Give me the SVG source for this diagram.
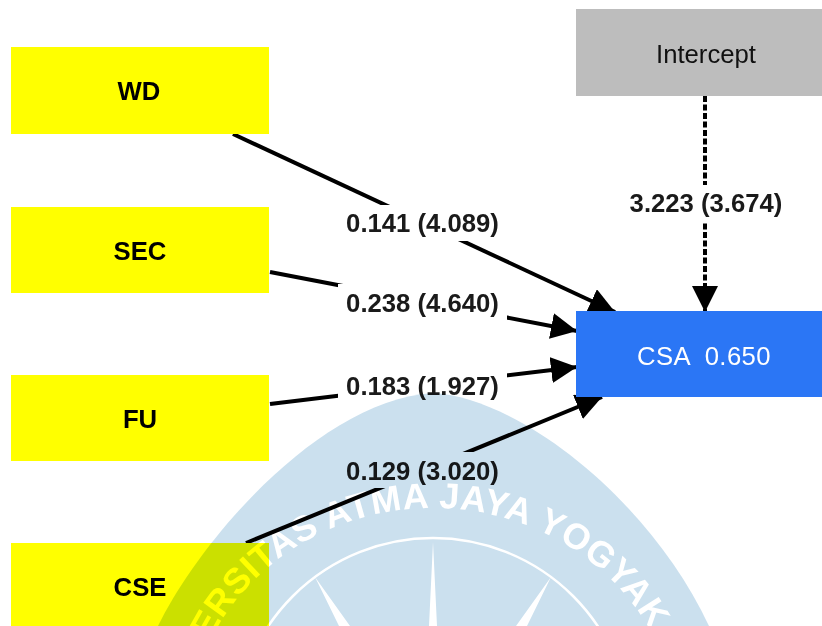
<svg xmlns="http://www.w3.org/2000/svg" width="822" height="626" viewBox="0 0 822 626">
<style>
text{font-family:"Liberation Sans",Arial,sans-serif;font-size:25.7px;text-anchor:middle}
.k{font-weight:bold;fill:#000}
.y{fill:#ffff00}
.l{font-weight:bold;fill:#1a1a1a}
.e{fill:none;stroke:#000;stroke-width:4;marker-end:url(#a)}
.b{fill:#fff}
</style>
<defs>
<marker id="a" markerUnits="userSpaceOnUse" markerWidth="26" markerHeight="26" refX="26" refY="13" orient="auto"><path d="M0 0L26 13L0 26Z" fill="#000"/></marker>
</defs>
<rect width="822" height="626" fill="#fff"/>
<g id="connectors">
<line class="e" x1="233" y1="134" x2="615" y2="312"/>
<line class="e" x1="270" y1="272" x2="577" y2="331"/>
<line class="e" x1="270" y1="404" x2="577" y2="367"/>
<line class="e" x1="246" y1="543" x2="602" y2="397"/>
<line class="e" x1="705" y1="96" x2="705" y2="312" stroke-dasharray="6 2.500"/>
</g>
<g id="edge-labels">
<rect class="b" x="338" y="205" width="169" height="36"/><text class="l" x="422.500" y="232">0.141 (4.089)</text>
<rect class="b" x="338" y="284" width="169" height="36"/><text class="l" x="422.500" y="312">0.238 (4.640)</text>
<rect class="b" x="338" y="368" width="169" height="36"/><text class="l" x="422.500" y="395">0.183 (1.927)</text>
<rect class="b" x="338" y="452" width="169" height="36"/><text class="l" x="422.500" y="480">0.129 (3.020)</text>
<rect class="b" x="625" y="185" width="162" height="37"/><text class="l" x="706" y="212">3.223 (3.674)</text>
</g>
<g id="WD"><rect class="y" x="11" y="47" width="258" height="87"/><text class="k" x="139" y="100">WD</text></g>
<g id="SEC"><rect class="y" x="11" y="207" width="258" height="86"/><text class="k" x="140" y="260">SEC</text></g>
<g id="FU"><rect class="y" x="11" y="375" width="258" height="86"/><text class="k" x="140" y="428">FU</text></g>
<g id="CSE"><rect class="y" x="11" y="543" width="258" height="86"/><text class="k" x="140" y="596">CSE</text></g>
<g id="Intercept"><rect x="576" y="9" width="246" height="87" fill="#bdbdbd"/><text x="706" y="63" fill="#111">Intercept</text></g>
<g id="CSA"><rect x="576" y="311" width="246" height="86" fill="#2b76f5"/><text x="704" y="365" fill="#fff" letter-spacing="0.4" xml:space="preserve">CSA  0.650</text></g>
<g id="watermark" style="mix-blend-mode:multiply">
<path d="M158 626C200 540 320 400 433 393C520 398 650 500 709 626Z" fill="#cbe0ee"/>
<circle cx="433" cy="736" r="198" fill="none" stroke="#fff" stroke-width="2.500"/>
<path d="M433 542L437 626H429Z M315 577L350 626H339Z M551 577L527 626H516Z" fill="#fff"/>
<path id="wm-arc" d="M188 736A245 228 0 0 1 678 736" fill="none"/>
<text fill="#fff" style="font-size:36px;font-weight:bold" letter-spacing="0.5"><textPath href="#wm-arc" startOffset="50%">UNIVERSITAS ATMA JAYA YOGYAKARTA</textPath></text>
</g>
</svg>
